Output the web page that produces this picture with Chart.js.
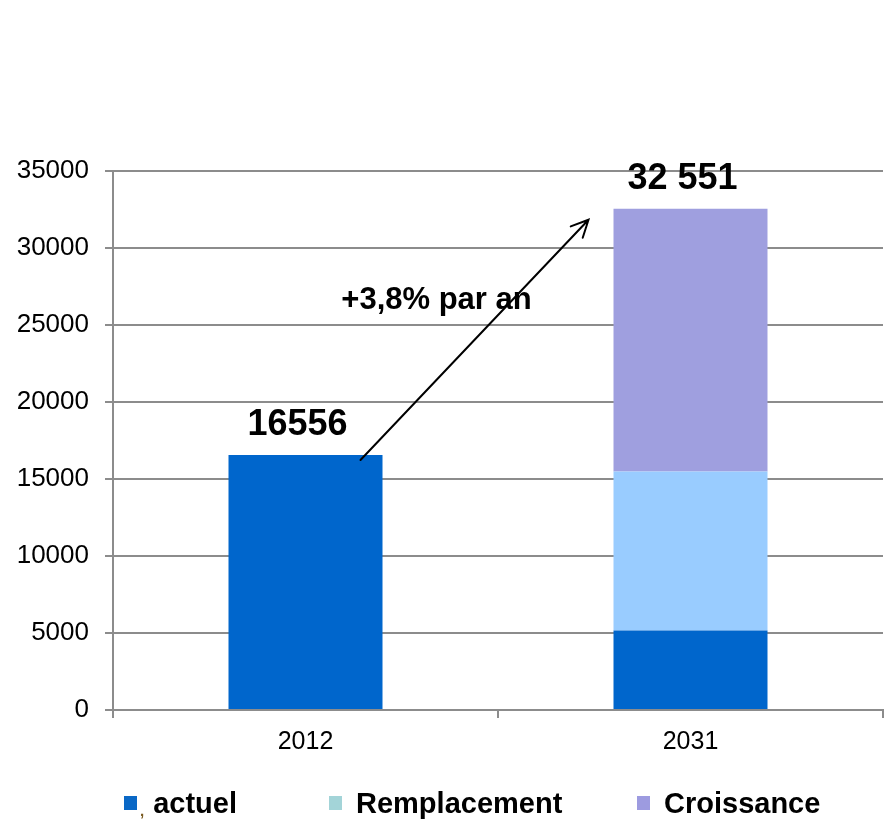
<!DOCTYPE html>
<html>
<head>
<meta charset="utf-8">
<script src="https://cdn.jsdelivr.net/npm/chart.js@4/dist/chart.umd.min.js"></script>
<style>
  body { margin: 0; background: #fff; }
  #wrap { position: relative; width: 885px; height: 822px; }
  #wrap canvas { position: absolute; left: 0; top: 0; }
  #legend { position: absolute; left: 0; top: 788px; width: 885px; height: 30px;
            font: bold 29px "Liberation Sans", Arial, sans-serif; color: #000; }
  #legend .item { position: absolute; top: 0; height: 30px; display: flex; align-items: center; line-height: 30px; white-space: nowrap; }
  #legend .box { width: 13px; height: 14px; margin-right: 14px; }
  #legend .tick { font-size: 15px; line-height: 15px; color: #7a5a20; position: relative; top: 7px; margin: 0 9px 0 -11px; }
</style>
</head>
<body>
<div id="wrap">
  <canvas id="parc"></canvas>
  <div id="legend"></div>
</div>
<script>
var categories = ['2012', '2031'];
var actuel = [16556, 5160];
var remplacement = [null, 10330];
var croissance = [null, 17061];
var totalText = ['16556', '32 551'];
var growthText = '+3,8% par an';
var yTicks = [0, 5000, 10000, 15000, 20000, 25000, 30000, 35000];

var barColors = ['#0066cc', '#99ccff', '#9f9fdf'];
var legendColors = ['#0a68c6', '#a3d4d8', '#9d9be0'];
var legendLeft = [124, 329, 637];

var FONT = '"Liberation Sans", Arial, sans-serif';
var GRID = '#8c8c8c';

// totals, growth note and arrow over the stacks
var notes = {
    id: 'notes',
    afterDatasetsDraw: function (chart) {
        var ctx = chart.ctx;
        var y = chart.scales.y;
        var tops = [];

        categories.forEach(function (c, i) {
            var sum = 0, bar = null;
            chart.data.datasets.forEach(function (ds, d) {
                if (ds.data[i] != null) {
                    sum += ds.data[i];
                    bar = chart.getDatasetMeta(d).data[i];
                }
            });
            tops.push({ x: bar.x, w: bar.width, y: y.getPixelForValue(sum) });
        });

        ctx.save();
        ctx.fillStyle = '#000';
        ctx.textAlign = 'center';
        ctx.textBaseline = 'alphabetic';
        ctx.font = 'bold 36px ' + FONT;
        tops.forEach(function (t, i) {
            ctx.fillText(totalText[i], t.x - 8, t.y - 20);
        });

        var sx = tops[0].x + 55, sy = tops[0].y + 5;
        var ex = tops[1].x - tops[1].w / 2 - 25, ey = tops[1].y + 11;

        ctx.font = 'bold 31px ' + FONT;
        ctx.fillText(growthText, (sx + ex) / 2 - 38, (sy + ey) / 2 - 31);

        ctx.strokeStyle = '#000';
        ctx.lineWidth = 2;
        ctx.lineCap = 'round';
        ctx.beginPath();
        ctx.moveTo(sx, sy);
        ctx.lineTo(ex, ey);
        var a = Math.atan2(ey - sy, ex - sx), len = 19, spread = 0.45;
        ctx.moveTo(ex - len * Math.cos(a - spread), ey - len * Math.sin(a - spread));
        ctx.lineTo(ex, ey);
        ctx.lineTo(ex - len * Math.cos(a + spread), ey - len * Math.sin(a + spread));
        ctx.stroke();
        ctx.restore();
    }
};

var chart = new Chart(document.getElementById('parc'), {
    type: 'bar',
    data: {
        labels: categories,
        datasets: [
            { label: 'actuel', data: actuel, backgroundColor: barColors[0] },
            { label: 'Remplacement', data: remplacement, backgroundColor: barColors[1] },
            { label: 'Croissance', data: croissance, backgroundColor: barColors[2] }
        ]
    },
    options: {
        responsive: true,
        maintainAspectRatio: false,
        animation: false,
        barPercentage: 0.4,
        categoryPercentage: 1.0,
        layout: { padding: { top: 171, right: 2, bottom: 65, left: 0 } },
        plugins: {
            legend: { display: false },
            tooltip: { enabled: false }
        },
        scales: {
            x: {
                stacked: true,
                grid: { drawOnChartArea: false, color: GRID, lineWidth: 2, tickLength: 8 },
                border: { display: true, color: GRID, width: 2 },
                ticks: { color: '#000', padding: 9, font: { family: FONT, size: 25 } },
                afterFit: function (s) { s.height = 47; }
            },
            y: {
                stacked: true,
                min: yTicks[0],
                max: yTicks[yTicks.length - 1],
                afterBuildTicks: function (s) {
                    s.ticks = yTicks.map(function (v) { return { value: v }; });
                },
                grid: { color: GRID, lineWidth: 2, tickLength: 8 },
                border: { display: true, color: GRID, width: 2 },
                ticks: {
                    color: '#000', padding: 16, font: { family: FONT, size: 26 },
                    callback: function (v) { return String(v); }
                },
                afterFit: function (s) { s.width = 113; }
            }
        }
    },
    plugins: [notes]
});

// legend below the axis
var legend = document.getElementById('legend');
chart.data.datasets.forEach(function (ds, i) {
    var item = document.createElement('span');
    item.className = 'item';
    item.style.left = legendLeft[i] + 'px';
    var box = document.createElement('span');
    box.className = 'box';
    box.style.background = legendColors[i];
    item.appendChild(box);
    if (i === 0) {
        var t = document.createElement('span');
        t.className = 'tick';
        t.textContent = ',';
        item.appendChild(t);
    }
    item.appendChild(document.createTextNode(ds.label));
    legend.appendChild(item);
});
</script>
</body>
</html>
